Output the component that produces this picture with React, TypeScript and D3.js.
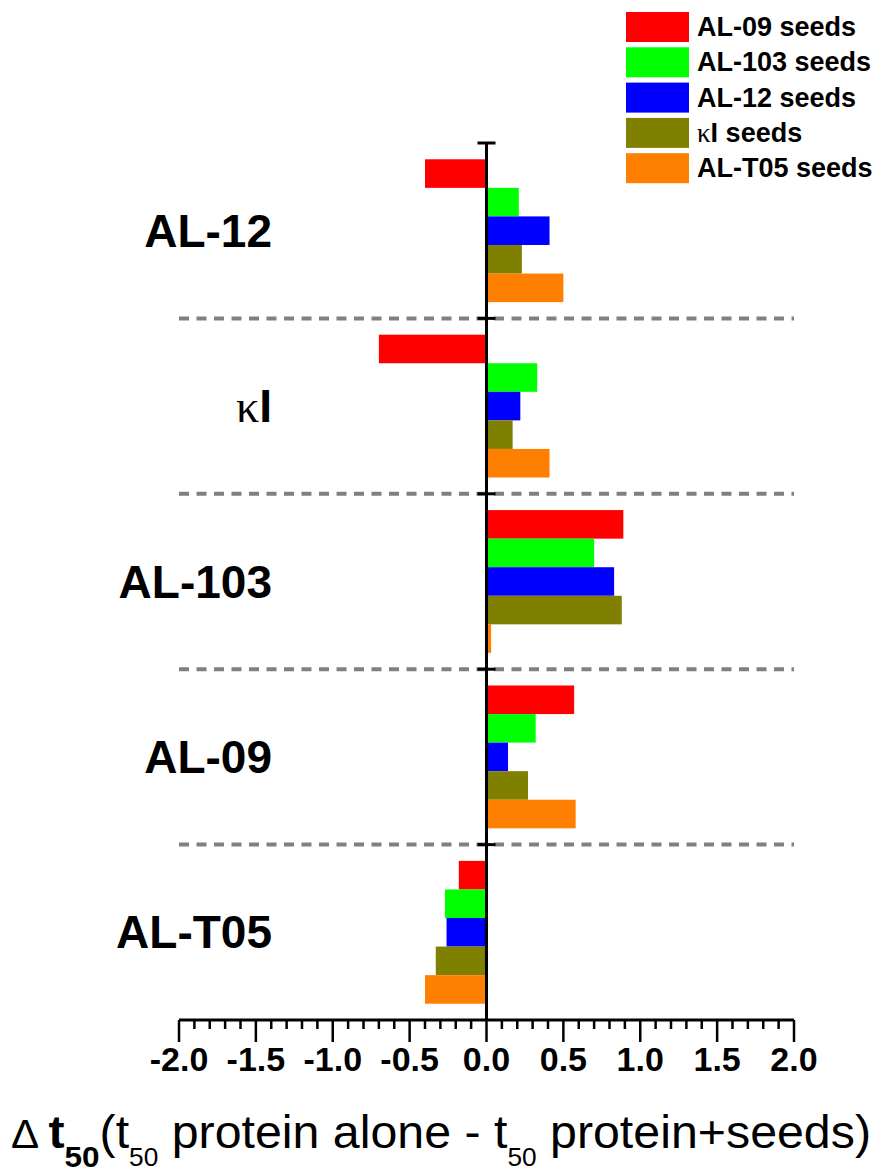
import React, { useRef, useEffect } from "react";
import * as d3 from "d3";

// categories, top to bottom
const categories = ["AL-12", "κI", "AL-103", "AL-09", "AL-T05"];
const seriesNames = ["AL-09 seeds", "AL-103 seeds", "AL-12 seeds", "κI seeds", "AL-T05 seeds"];
const seriesColors = ["#ff0000", "#00ff00", "#0000ff", "#808000", "#ff8000"];

// Δt50 values per category for each seed series
const al09Seeds = [-0.4, -0.7, 0.89, 0.57, -0.18];
const al103Seeds = [0.21, 0.33, 0.7, 0.32, -0.27];
const al12Seeds = [0.41, 0.22, 0.83, 0.14, -0.26];
const kISeeds = [0.23, 0.17, 0.88, 0.27, -0.33];
const alT05Seeds = [0.5, 0.41, 0.03, 0.58, -0.4];

const majorTicks = [-2.0, -1.5, -1.0, -0.5, 0.0, 0.5, 1.0, 1.5, 2.0];

const width = 881;
const height = 1174;
const FONT = "'Liberation Sans', Arial, sans-serif";

const App: React.FC = () => {
  const svgRef = useRef<SVGSVGElement | null>(null);

  useEffect(() => {
    if (!svgRef.current) return;
    const svg = d3.select(svgRef.current);
    svg.selectAll("*").remove();

    const series = [al09Seeds, al103Seeds, al12Seeds, kISeeds, alT05Seeds];

    // scales
    const x = d3.scaleLinear().domain([-2, 2]).range([179, 794]);
    const y = d3.scaleBand<string>().domain(categories).range([143, 1020]).paddingInner(0).paddingOuter(0);
    const ySub = d3
      .scaleBand<number>()
      .domain(d3.range(seriesNames.length))
      .range([0, y.bandwidth()])
      .paddingInner(0)
      .paddingOuter(0.57);

    // dashed separators between categories
    const boundaries = categories.slice(1).map((c) => y(c) as number);
    svg
      .append("g")
      .selectAll("line")
      .data(boundaries)
      .enter()
      .append("line")
      .attr("x1", x(-2))
      .attr("x2", x(2))
      .attr("y1", (d) => d)
      .attr("y2", (d) => d)
      .attr("stroke", "#808080")
      .attr("stroke-width", 4)
      .attr("stroke-dasharray", "10,7.5");

    // bars
    const bars = svg.append("g");
    series.forEach((vals, si) => {
      bars
        .selectAll(`.bar-${si}`)
        .data(vals)
        .enter()
        .append("rect")
        .attr("x", (d) => x(Math.min(0, d)))
        .attr("width", (d) => Math.abs(x(d) - x(0)))
        .attr("y", (_, i) => (y(categories[i]) as number) + (ySub(si) as number))
        .attr("height", ySub.bandwidth())
        .attr("fill", seriesColors[si]);
    });

    // vertical axis at zero with boundary ticks
    const axisG = svg.append("g").attr("stroke", "#000");
    axisG
      .append("line")
      .attr("x1", x(0))
      .attr("x2", x(0))
      .attr("y1", y.range()[0])
      .attr("y2", y.range()[1])
      .attr("stroke-width", 3);
    axisG
      .selectAll(".ytick")
      .data([y.range()[0], ...boundaries])
      .enter()
      .append("line")
      .attr("x1", x(0) - 9)
      .attr("x2", x(0) + 9)
      .attr("y1", (d) => d)
      .attr("y2", (d) => d)
      .attr("stroke-width", 3);

    // bottom axis
    const axisY = y.range()[1];
    axisG
      .append("line")
      .attr("x1", x(-2))
      .attr("x2", x(2))
      .attr("y1", axisY)
      .attr("y2", axisY)
      .attr("stroke-width", 3);
    const minorTicks = d3.range(-20, 21).map((v) => v / 10);
    axisG
      .selectAll(".xtick")
      .data(minorTicks)
      .enter()
      .append("line")
      .attr("x1", (d) => x(d))
      .attr("x2", (d) => x(d))
      .attr("y1", axisY)
      .attr("y2", (d) => (Math.abs(Math.round(d * 10) % 5) === 0 ? axisY + 22 : axisY + 9))
      .attr("stroke-width", 2.5);

    svg
      .append("g")
      .selectAll("text")
      .data(majorTicks)
      .enter()
      .append("text")
      .attr("x", (d) => x(d))
      .attr("y", 1071)
      .attr("text-anchor", "middle")
      .attr("font-family", FONT)
      .attr("font-weight", "bold")
      .attr("font-size", 34)
      .text((d) => d.toFixed(1));

    // category labels
    const labels = svg.append("g").attr("font-family", FONT).attr("font-size", 46).attr("font-weight", "bold");
    categories.forEach((c) => {
      const t = labels
        .append("text")
        .attr("x", 272)
        .attr("y", (y(c) as number) + y.bandwidth() / 2 + 16)
        .attr("text-anchor", "end");
      if (c.startsWith("κ")) {
        t.append("tspan").attr("font-family", "'Liberation Serif', serif").attr("font-weight", "normal").text("κ");
        t.append("tspan").text(c.slice(1));
      } else {
        t.text(c);
      }
    });

    // legend
    const legend = svg.append("g");
    const rowStep = 35.3;
    seriesNames.forEach((name, i) => {
      legend
        .append("rect")
        .attr("x", 626)
        .attr("y", 12 + i * rowStep)
        .attr("width", 63)
        .attr("height", 30)
        .attr("fill", seriesColors[i]);
      const t = legend
        .append("text")
        .attr("x", 697)
        .attr("y", 12 + i * rowStep + 24)
        .attr("font-family", FONT)
        .attr("font-weight", "bold")
        .attr("font-size", 27);
      if (name.startsWith("κ")) {
        t.append("tspan").attr("font-family", "'Liberation Serif', serif").attr("font-weight", "normal").text("κ");
        t.append("tspan").text(name.slice(1));
      } else {
        t.text(name);
      }
    });

    // axis title
    const title = svg
      .append("text")
      .attr("x", 11)
      .attr("y", 1148)
      .attr("font-family", FONT)
      .attr("font-size", 46)
      .attr("textLength", 860)
      .attr("lengthAdjust", "spacingAndGlyphs");
    title.append("tspan").attr("font-size", 40).text("Δ ");
    title.append("tspan").attr("font-weight", "bold").text("t");
    title.append("tspan").attr("font-weight", "bold").attr("font-size", 30).attr("dy", 19).text("50");
    title.append("tspan").attr("dy", -19).text("(t");
    title.append("tspan").attr("font-size", 25).attr("dy", 18).text("50");
    title.append("tspan").attr("dy", -18).text(" protein alone - t");
    title.append("tspan").attr("font-size", 25).attr("dy", 18).text("50");
    title.append("tspan").attr("dy", -18).text(" protein+seeds)");
  }, []);

  return (
    <svg
      ref={svgRef}
      width={width}
      height={height}
      viewBox={`0 0 ${width} ${height}`}
      style={{ position: "absolute", left: 0, top: 0, background: "#fff" }}
    />
  );
};

export default App;
